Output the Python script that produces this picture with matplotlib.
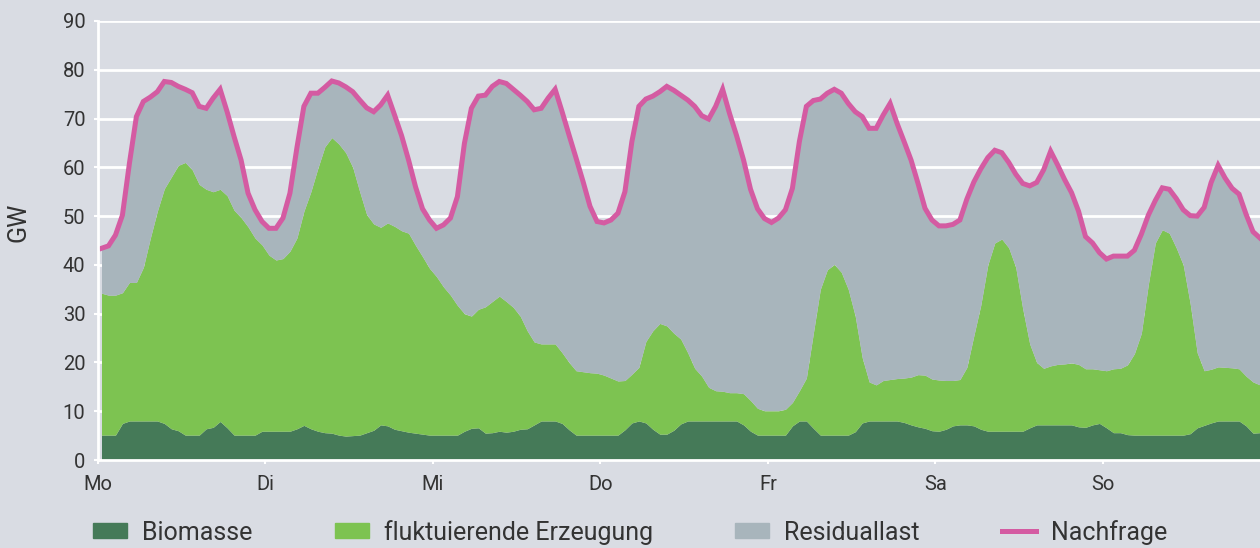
import numpy as np
import matplotlib
matplotlib.use("Agg")
import matplotlib.pyplot as plt
from matplotlib.patches import Patch
from matplotlib.lines import Line2D

# Stundenwerte einer Woche (GW)
nachfrage = [
    # Mo
    43.4, 43.9, 46.1, 50.2, 60.8, 70.4, 73.5, 74.4, 75.5, 77.6, 77.4, 76.6,
    76.0, 75.3, 72.5, 72.1, 74.2, 76.0, 71.4, 66.3, 61.5, 54.7, 51.3, 48.9,
    # Di
    47.5, 47.5, 49.6, 54.7, 64.0, 72.5, 75.2, 75.2, 76.4, 77.7, 77.3, 76.5,
    75.5, 73.8, 72.2, 71.4, 72.8, 74.8, 70.7, 66.5, 61.5, 56.0, 51.5, 49.2,
    # Mi
    47.5, 48.2, 49.6, 54.0, 64.9, 72.1, 74.6, 74.8, 76.6, 77.6, 77.2, 76.0,
    74.8, 73.5, 71.8, 72.1, 74.2, 76.0, 71.4, 66.6, 61.9, 57.1, 52.0, 48.9,
    # Do
    48.6, 49.2, 50.6, 55.0, 65.3, 72.5, 74.0, 74.6, 75.5, 76.6, 75.8, 74.8,
    73.8, 72.5, 70.6, 69.9, 72.5, 76.0, 71.0, 66.5, 61.5, 55.5, 51.5, 49.5,
    # Fr
    48.7, 49.6, 51.3, 55.7, 65.3, 72.5, 73.7, 74.0, 75.2, 76.0, 75.2, 73.1,
    71.4, 70.4, 68.0, 68.0, 70.7, 73.1, 69.0, 65.3, 61.5, 56.7, 51.6, 49.2,
    # Sa
    48.0, 48.0, 48.3, 49.2, 53.5, 57.0, 59.7, 62.0, 63.5, 63.0, 61.0, 58.6,
    56.7, 56.2, 56.9, 59.5, 63.3, 60.5, 57.5, 54.8, 51.0, 45.8, 44.5, 42.5,
    # So
    41.2, 41.8, 41.8, 41.8, 43.0, 46.3, 50.2, 53.2, 55.8, 55.5, 53.6, 51.3,
    50.1, 50.0, 51.8, 56.9, 60.4, 57.8, 55.7, 54.5, 50.4, 46.8, 45.5,
]

# Oberkante Biomasse + fluktuierende Erzeugung (GW)
erzeugung_oben = [
    34.2, 33.8, 33.8, 34.3, 36.4, 36.4, 39.5, 45.5, 51.0, 55.6, 58.0, 60.4,
    61.0, 59.5, 56.5, 55.5, 55.0, 55.5, 54.2, 51.2, 49.7, 47.8, 45.5, 44.1,
    42.0, 41.0, 41.3, 42.8, 45.5, 51.0, 55.0, 59.8, 64.2, 66.1, 64.8, 63.0,
    60.0, 55.0, 50.3, 48.4, 47.7, 48.6, 47.9, 47.0, 46.5, 44.0, 41.7, 39.3,
    37.6, 35.5, 33.8, 31.7, 30.0, 29.5, 30.9, 31.4, 32.5, 33.6, 32.5, 31.3,
    29.5, 26.5, 24.2, 23.8, 23.8, 23.8, 22.0, 20.0, 18.3, 18.1, 17.9, 17.8,
    17.4, 16.8, 16.2, 16.3, 17.6, 19.0, 24.3, 26.5, 28.0, 27.5, 26.0, 24.8,
    22.0, 18.8, 17.2, 14.9, 14.2, 14.1, 13.8, 13.8, 13.6, 12.2, 10.6, 10.1,
    10.1, 10.1, 10.4, 11.8, 14.2, 16.8, 26.0, 35.0, 39.0, 40.1, 38.5, 35.0,
    29.5, 21.0, 16.0, 15.4, 16.3, 16.5, 16.7, 16.8, 17.0, 17.5, 17.4, 16.6,
    16.4, 16.3, 16.3, 16.5, 19.0, 25.5, 31.8, 40.0, 44.5, 45.3, 43.5, 39.5,
    31.0, 23.8, 20.0, 18.8, 19.3, 19.6, 19.7, 19.9, 19.6, 18.7, 18.7, 18.5,
    18.3, 18.7, 18.8, 19.5, 21.8, 26.0, 36.0, 44.5, 47.2, 46.5, 43.5, 40.0,
    32.0, 22.0, 18.3, 18.6, 19.1, 19.0, 18.9, 18.7, 17.2, 16.0, 15.4,
]

biomasse = [
    5.1, 5.1, 5.1, 7.5, 8.0, 8.0, 8.0, 8.0, 8.0, 7.5, 6.4, 6.0,
    5.1, 5.1, 5.1, 6.4, 6.7, 7.9, 6.6, 5.1, 5.1, 5.1, 5.1, 5.9,
    5.9, 5.9, 5.9, 5.9, 6.4, 7.1, 6.4, 5.9, 5.6, 5.5, 5.1, 4.9,
    5.0, 5.1, 5.6, 6.1, 7.2, 7.0, 6.3, 6.0, 5.7, 5.5, 5.3, 5.1,
    5.1, 5.1, 5.1, 5.1, 5.9, 6.5, 6.6, 5.5, 5.6, 5.9, 5.7, 5.9,
    6.3, 6.4, 7.2, 8.0, 8.0, 8.0, 7.5, 6.2, 5.1, 5.1, 5.1, 5.1,
    5.1, 5.1, 5.1, 6.2, 7.6, 8.0, 7.6, 6.3, 5.3, 5.3, 6.1, 7.4,
    8.0, 8.0, 8.0, 8.0, 8.0, 8.0, 8.0, 8.0, 7.2, 5.9, 5.1, 5.1,
    5.1, 5.1, 5.1, 7.0, 8.0, 8.0, 6.5, 5.1, 5.1, 5.1, 5.1, 5.1,
    5.8, 7.6, 8.0, 8.0, 8.0, 8.0, 8.0, 7.7, 7.2, 6.8, 6.5, 6.0,
    5.9, 6.3, 7.0, 7.2, 7.2, 7.0, 6.3, 5.9, 5.9, 5.9, 5.9, 5.9,
    5.9, 6.6, 7.2, 7.2, 7.2, 7.2, 7.2, 7.2, 6.8, 6.7, 7.2, 7.5,
    6.6, 5.6, 5.6, 5.2, 5.1, 5.1, 5.1, 5.1, 5.1, 5.1, 5.1, 5.1,
    5.4, 6.6, 7.1, 7.6, 8.0, 8.0, 8.0, 8.0, 7.0, 5.5, 5.6,
]

tage = ["Mo", "Di", "Mi", "Do", "Fr", "Sa", "So"]

farbe_hintergrund = "#d9dce3"
farbe_bio = "#457a58"
farbe_fluk = "#7dc351"
farbe_rest = "#a8b5bc"
farbe_nachfrage = "#d45ba2"
farbe_text = "#333333"

plt.rcParams["font.family"] = ["Roboto", "DejaVu Sans"]

n = min(len(nachfrage), len(erzeugung_oben), len(biomasse))
stunden = np.arange(n) + 0.5
nachfrage = np.array(nachfrage[:n])
erzeugung_oben = np.array(erzeugung_oben[:n])
biomasse = np.array(biomasse[:n])

fig = plt.figure(figsize=(12.6, 5.48), dpi=100, facecolor=farbe_hintergrund)
ax = fig.add_axes([98 / 1260, 88 / 548, 1162 / 1260, 439 / 548])
ax.set_facecolor(farbe_hintergrund)

ax.fill_between(stunden, 0, biomasse, color=farbe_bio, lw=0)
ax.fill_between(stunden, biomasse, erzeugung_oben, color=farbe_fluk, lw=0)
ax.fill_between(stunden, erzeugung_oben, nachfrage, color=farbe_rest, lw=0)
ax.plot(stunden, nachfrage, color=farbe_nachfrage, lw=3.6, solid_joinstyle="miter")

ax.set_xlim(0, 166.5)
ax.set_ylim(0, 90)
ax.set_yticks(range(0, 91, 10))
ax.set_xticks(np.arange(len(tage)) * 24)
ax.set_xticklabels(tage)

ax.set_axisbelow(True)
ax.grid(axis="y", color="white", lw=2)
for s in ["top", "right"]:
    ax.spines[s].set_visible(False)
for s in ["left", "bottom"]:
    ax.spines[s].set_color("white")
    ax.spines[s].set_linewidth(2)
ax.tick_params(axis="both", colors="white", length=3, width=1.5,
               labelcolor=farbe_text, labelsize=14.5)
ax.tick_params(axis="y", pad=6)
ax.tick_params(axis="x", pad=8)
ax.set_ylabel("GW", fontsize=18, color=farbe_text)
ax.yaxis.set_label_coords(-0.058, 0.542)

griffe = [
    Patch(color=farbe_bio, label="Biomasse"),
    Patch(color=farbe_fluk, label="fluktuierende Erzeugung"),
    Patch(color=farbe_rest, label="Residuallast"),
    Line2D([0], [0], color=farbe_nachfrage, lw=3.6, label="Nachfrage"),
]
leg = fig.legend(handles=griffe, loc="center", bbox_to_anchor=(0.5, 0.029),
                 ncol=4, frameon=False, fontsize=18, handlelength=1.36,
                 handleheight=0.55, handletextpad=0.6, columnspacing=3.3)
for t in leg.get_texts():
    t.set_color(farbe_text)

fig.savefig("out.png", dpi=100, facecolor=farbe_hintergrund)
